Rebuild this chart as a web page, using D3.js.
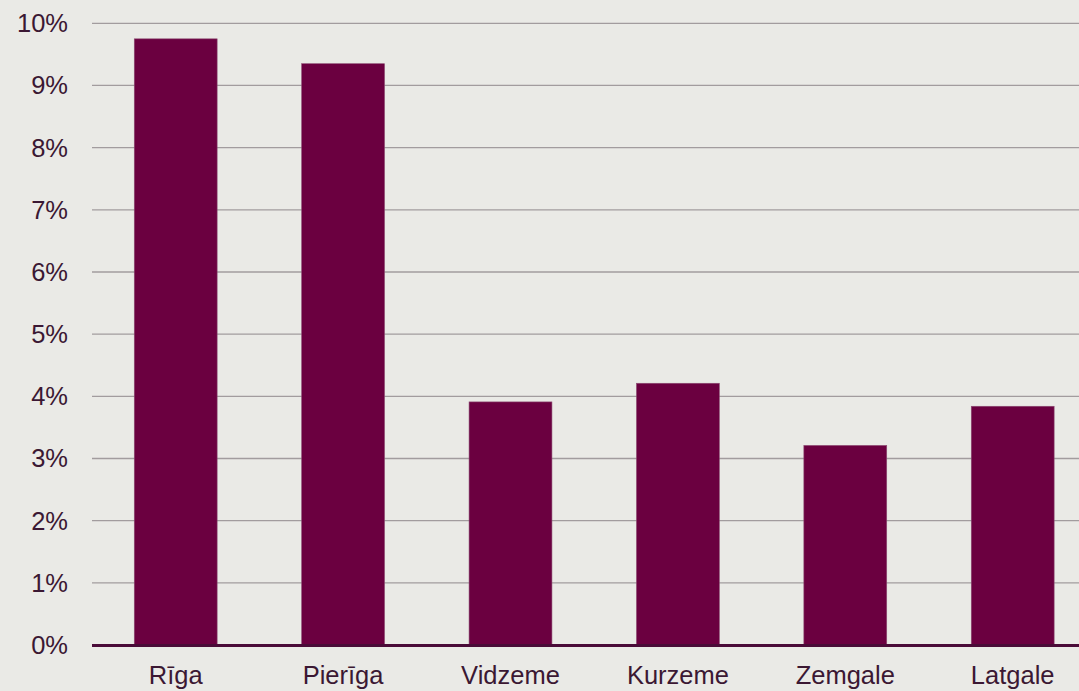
<!DOCTYPE html>
<html>
<head>
<meta charset="utf-8">
<script src="https://cdn.jsdelivr.net/npm/d3@7"></script>
<style>
  body { margin: 0; background: #eaeae6; }
  svg { display: block; font-family: "Liberation Sans", Arial, sans-serif; }
</style>
</head>
<body>
<div id="chart"></div>
<script>
const regions = ['Rīga', 'Pierīga', 'Vidzeme', 'Kurzeme', 'Zemgale', 'Latgale'];
const values = [9.75, 9.35, 3.91, 4.21, 3.21, 3.84];
const yTicks = [0, 1, 2, 3, 4, 5, 6, 7, 8, 9, 10];

const w = 1079;
const h = 691;
const marginLeft = 92, plotTop = 23.3, plotBottom = 645;

const svg = d3.select('#chart')
  .append('svg')
  .attr('width', w)
  .attr('height', h);

svg.append('rect')
  .attr('width', w)
  .attr('height', h)
  .attr('fill', '#eaeae6');

const xScale = d3.scaleBand()
  .domain(regions)
  .range([marginLeft, marginLeft + 167.4 * 6])
  .paddingInner(0.505)
  .paddingOuter(0.2525);

const yScale = d3.scaleLinear()
  .domain([0, 10])
  .range([plotBottom, plotTop]);

// gridlines
svg.append('g')
  .selectAll('line')
  .data(yTicks.filter(d => d > 0))
  .enter()
  .append('line')
  .attr('x1', marginLeft)
  .attr('x2', w)
  .attr('y1', d => yScale(d))
  .attr('y2', d => yScale(d))
  .attr('stroke', '#a29c9e')
  .attr('stroke-width', 1.3);

// y labels
svg.append('g')
  .selectAll('text')
  .data(yTicks)
  .enter()
  .append('text')
  .attr('x', 68)
  .attr('y', d => yScale(d))
  .attr('dy', '0.35em')
  .attr('text-anchor', 'end')
  .attr('fill', '#3b1833')
  .style('font-size', '25.5px')
  .text(d => d + '%');

// bars
svg.append('g')
  .selectAll('rect')
  .data(values)
  .enter()
  .append('rect')
  .attr('x', (d, i) => xScale(regions[i]))
  .attr('y', d => yScale(d))
  .attr('width', xScale.bandwidth())
  .attr('height', d => plotBottom - yScale(d))
  .attr('fill', '#6b0040')
  .attr('stroke', '#8c4a72')
  .attr('stroke-width', 0.6);

// baseline
svg.append('line')
  .attr('x1', marginLeft)
  .attr('x2', w)
  .attr('y1', plotBottom + 0.5)
  .attr('y2', plotBottom + 0.5)
  .attr('stroke', '#4a0b38')
  .attr('stroke-width', 3);

// x labels
svg.append('g')
  .selectAll('text')
  .data(regions)
  .enter()
  .append('text')
  .attr('x', d => xScale(d) + xScale.bandwidth() / 2)
  .attr('y', 684)
  .attr('text-anchor', 'middle')
  .attr('fill', '#3b1833')
  .style('font-size', '25.5px')
  .text(d => d);
</script>
</body>
</html>
